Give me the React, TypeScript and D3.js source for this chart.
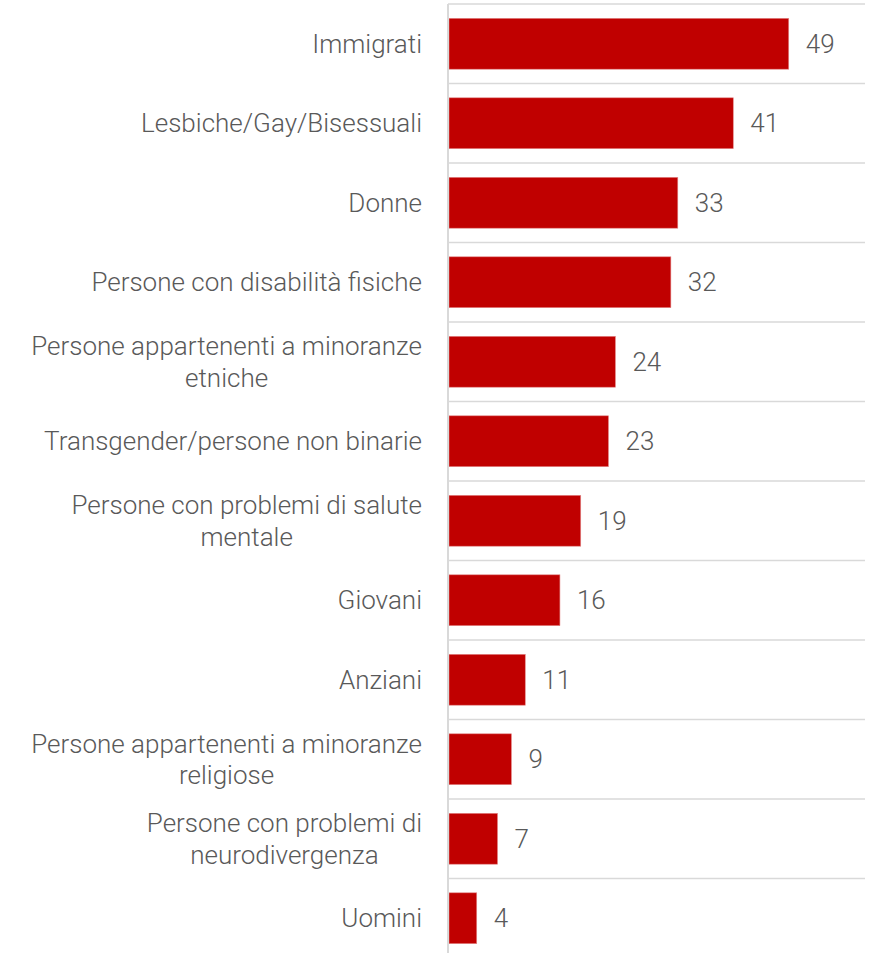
import React from "react";
import * as d3 from "d3";

const categories: string[] = [
  "Immigrati",
  "Lesbiche/Gay/Bisessuali",
  "Donne",
  "Persone con disabilità fisiche",
  "Persone appartenenti a minoranze\netniche",
  "Transgender/persone non binarie",
  "Persone con problemi di salute\nmentale",
  "Giovani",
  "Anziani",
  "Persone appartenenti a minoranze\nreligiose",
  "Persone con problemi di\nneurodivergenza",
  "Uomini",
];
const values: number[] = [49, 41, 33, 32, 24, 23, 19, 16, 11, 9, 7, 4];
const xMax = 60;

const W = 871;
const H = 953;
const AXIS_X = 449;
const RIGHT = 865;
const TOP = 4;
const STEP = 79.5;
const LABEL_RIGHT = 422;

const FONT = "Roboto, 'Open Sans', sans-serif";
const FS = 26;
const FW = 300;

let ctx: CanvasRenderingContext2D | null = null;
function measure(s: string): number {
  if (!ctx) {
    const c = document.createElement("canvas");
    ctx = c.getContext("2d");
  }
  if (!ctx) return s.length * FS * 0.5;
  ctx.font = `${FW} ${FS}px Roboto`;
  return ctx.measureText(s).width;
}

export default function App() {
  const y = d3
    .scaleBand<string>()
    .domain(categories)
    .range([TOP, TOP + STEP * categories.length])
    .paddingInner(0.36)
    .paddingOuter(0.18);
  const x = d3.scaleLinear().domain([0, xMax]).range([AXIS_X, RIGHT]);
  const step = y.step();
  const textColor = "#595959";
  const lineH = 31.5;

  return (
    <svg
      width={W}
      height={H}
      style={{ position: "absolute", left: 0, top: 0, background: "#fff" }}
      fontFamily={FONT}
      fontWeight={FW}
    >
      {d3.range(categories.length + 1).map((i) => (
        <line
          key={"g" + i}
          x1={AXIS_X - 1}
          x2={RIGHT}
          y1={TOP + step * i}
          y2={TOP + step * i}
          stroke="#d9d9d9"
          strokeWidth={1.5}
        />
      ))}
      {categories.map((c, i) => {
        const y0 = y(c)!;
        const bw = y.bandwidth();
        const cy = y0 + bw / 2;
        const lines = c.split("\n");
        const widths = lines.map(measure);
        const maxW = Math.max(...widths);
        const centerX = LABEL_RIGHT - maxW / 2;
        return (
          <g key={c}>
            <rect
              x={x(0)}
              y={y0}
              width={x(values[i]) - x(0)}
              height={bw}
              fill="#C00000"
              stroke="#e38a8a"
              strokeWidth={0.6}
            />
            <text
              x={x(values[i]) + 17}
              y={cy}
              dy="0.35em"
              fontSize={FS}
              fill={textColor}
            >
              {values[i]}
            </text>
            {lines.map((l, k) => (
              <text
                key={k}
                x={lines.length > 1 ? centerX : LABEL_RIGHT}
                y={cy - ((lines.length - 1) * lineH) / 2 + k * lineH}
                dy="0.35em"
                textAnchor={lines.length > 1 ? "middle" : "end"}
                fontSize={FS}
                fill={textColor}
              >
                {l}
              </text>
            ))}
          </g>
        );
      })}
      <line x1={AXIS_X - 1} x2={AXIS_X - 1} y1={TOP} y2={H} stroke="#d9d9d9" strokeWidth={2} />
    </svg>
  );
}
